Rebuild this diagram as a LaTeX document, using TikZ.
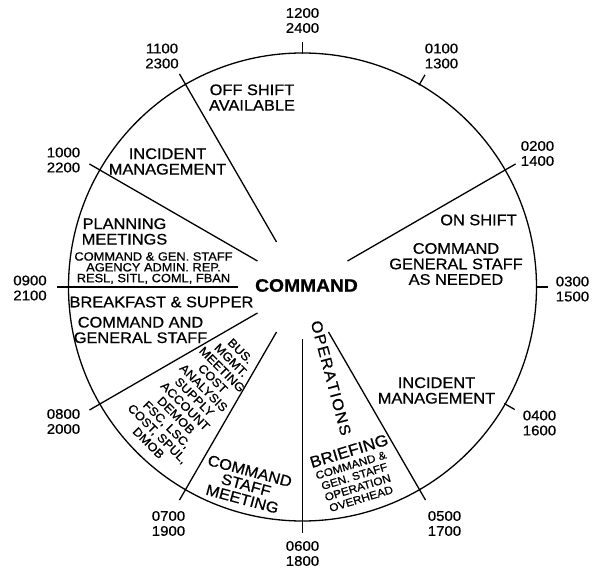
\documentclass[tikz,border=0pt]{standalone}
\usepackage{fontspec}
\setmainfont[FakeStretch=1.07,FakeBold=0.7]{Liberation Sans}
\begin{document}
\begin{tikzpicture}[x=1pt,y=1pt,
  ln/.style={line width=1.3pt},
  clk/.style={font=\fontsize{14}{15}\selectfont, align=center, inner sep=0pt},
  sect/.style={font=\fontsize{15.3}{15.5}\selectfont, align=center, inner sep=0pt},
  sml/.style={font=\fontsize{12}{10.8}\selectfont, align=center, inner sep=0pt}]
\useasboundingbox (-302.5,-286) rectangle (289.5,287);
\coordinate (ctr) at (0,0);
\draw[ln] (ctr) circle (234);
% dividers
\foreach \a/\n in {120/a,150/b,30/c,-60/d,-90/e,-120/f,-150/g} {
  \coordinate (in\n) at (\a:52);
  \coordinate (out\n) at (\a:246);
  \draw[ln] (in\n) -- (out\n);
}
\coordinate (inh) at (180:64);
\coordinate (outh) at (180:245.5);
\draw[ln] (inh) -- (outh);
% ticks
\foreach \a/\n in {90/t1,60/t2,0/t3,-30/t4} {
  \coordinate (\n i) at (\a:233);
  \coordinate (\n o) at (\a:245);
  \draw[ln] (\n i) -- (\n o);
}
% clock labels
\node[clk] (l12) at (0,266.5) {1200\\2400};
\node[clk] (l01) at (139,231) {0100\\1300};
\node[clk] (l02) at (235,133.5) {0200\\1400};
\node[clk] (l03) at (270,-2) {0300\\1500};
\node[clk] (l04) at (237,-136) {0400\\1600};
\node[clk] (l05) at (142,-236.5) {0500\\1700};
\node[clk] (l06) at (0,-266.5) {0600\\1800};
\node[clk] (l07) at (-134,-236.5) {0700\\1900};
\node[clk] (l08) at (-239,-134.5) {0800\\2000};
\node[clk] (l09) at (-272.5,-1) {0900\\2100};
\node[clk] (l10) at (-239,127) {1000\\2200};
\node[clk] (l11) at (-140.5,231) {1100\\2300};
% centre
\node[font=\fontsize{18}{20}\selectfont\bfseries, inner sep=0pt] (cmd) at (4,1.5) {COMMAND};
% sectors
\node[sect] (off) at (-50.5,189.5) {OFF SHIFT\\AVAILABLE};
\node[sect] (im1) at (-135,125.5) {INCIDENT\\MANAGEMENT};
\node[sect] (plan) at (-178,55.5) {PLANNING\\MEETINGS};
\node[sml] (plansub) at (-149,19) {COMMAND \& GEN. STAFF\\AGENCY ADMIN. REP.\\RESL, SITL, COML, FBAN};
\node[sect] (bfs) at (-141,-15) {BREAKFAST \& SUPPER};
\node[sect] (cgs) at (-162,-43) {COMMAND AND\\GENERAL STAFF};
\node[font=\fontsize{12}{13}\selectfont, align=center, inner sep=0pt, rotate=-45] (bus) at (-108,-110)
  {BUS.\\MGMT.\\MEETING\\COST\\ANALYSIS\\SUPPLY\\ACCOUNT\\DEMOB\\FSC, LSC,\\COST, SPUL,\\DMOB};
\node[font=\fontsize{15.3}{14.5}\selectfont, align=center, inner sep=0pt, rotate=-15] (csm) at (-56.4,-198)
  {COMMAND\\STAFF\\MEETING};
\node[font=\fontsize{15.3}{15}\selectfont, inner sep=0pt, rotate=-75] (ops) at (28.5,-91)
  {O\kern1.2pt P\kern1.2pt E\kern1.2pt R\kern1.2pt A\kern1.2pt T\kern1.2pt I\kern1.2pt O\kern1.2pt N\kern1.2pt S};
\node[font=\fontsize{16}{17}\selectfont, inner sep=0pt, rotate=17] (brf) at (46.5,-164) {BRIEFING};
\node[font=\fontsize{11}{11.7}\selectfont, align=center, inner sep=0pt, rotate=17] (brfsub) at (53.5,-195)
  {COMMAND \&\\GEN. STAFF\\OPERATION\\OVERHEAD};
\node[sect] (im2) at (134,-103.5) {INCIDENT\\MANAGEMENT};
\node[sect] (on) at (176,67) {ON SHIFT};
\node[sect] (cga) at (153.5,23) {COMMAND\\GENERAL STAFF\\AS NEEDED};
\end{tikzpicture}
\end{document}
